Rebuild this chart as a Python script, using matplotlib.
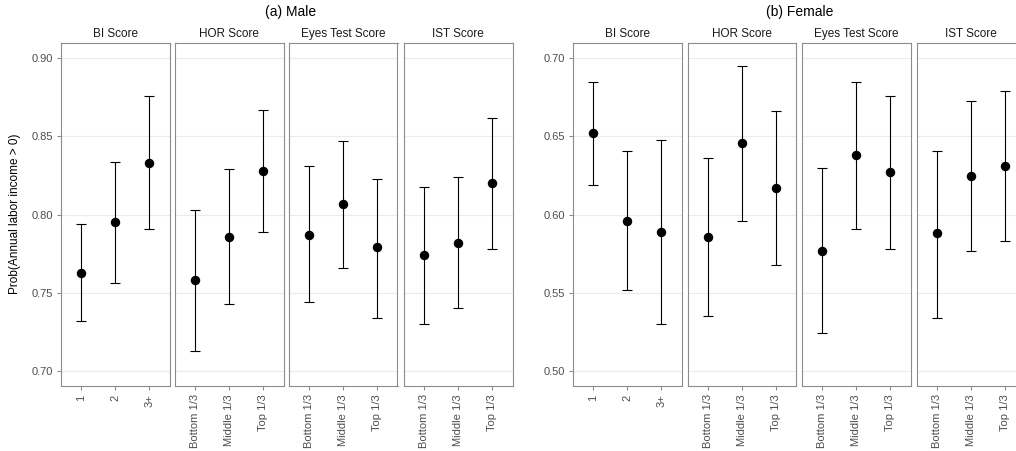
import matplotlib
matplotlib.use("Agg")
import matplotlib.pyplot as plt

plt.rcParams['font.family'] = ['Liberation Sans', 'DejaVu Sans']

facets = ["BI Score", "HOR Score", "Eyes Test Score", "IST Score"]
bi_levels = ["1", "2", "3+"]
tri_levels = ["Bottom 1/3", "Middle 1/3", "Top 1/3"]

# Male: estimate, lower, upper per facet
male_est = [[0.763, 0.795, 0.833], [0.758, 0.786, 0.828],
            [0.787, 0.807, 0.779], [0.774, 0.782, 0.820]]
male_lo = [[0.732, 0.756, 0.791], [0.713, 0.743, 0.789],
           [0.744, 0.766, 0.734], [0.730, 0.740, 0.778]]
male_hi = [[0.794, 0.834, 0.876], [0.803, 0.829, 0.867],
           [0.831, 0.847, 0.823], [0.818, 0.824, 0.862]]

female_est = [[0.652, 0.596, 0.589], [0.586, 0.646, 0.617],
              [0.577, 0.638, 0.627], [0.588, 0.625, 0.631]]
female_lo = [[0.619, 0.552, 0.530], [0.535, 0.596, 0.568],
             [0.524, 0.591, 0.578], [0.534, 0.577, 0.583]]
female_hi = [[0.685, 0.641, 0.648], [0.636, 0.695, 0.666],
             [0.630, 0.685, 0.676], [0.641, 0.673, 0.679]]

male_ticks = [0.70, 0.75, 0.80, 0.85, 0.90]
female_ticks = [0.50, 0.55, 0.60, 0.65, 0.70]

W, H = 1016, 451
fig = plt.figure(figsize=(W / 100, H / 100), dpi=100)

BORDER = "#8c8c8c"
GRID = "#ebebeb"
TICKC = "#4d4d4d"


def px_axes(x0, x1, y0, y1):
    return fig.add_axes([x0 / W, 1 - y1 / H, (x1 - x0) / W, (y1 - y0) / H])


def draw_group(lefts, width, top, bottom, est, lo, hi, ylim, yticks, title, title_x):
    for i, fac in enumerate(facets):
        ax = px_axes(lefts[i], lefts[i] + width, top, bottom)
        levels = bi_levels if i == 0 else tri_levels
        xs = list(range(len(levels)))
        e = est[i]
        yerr = [[e[k] - lo[i][k] for k in xs], [hi[i][k] - e[k] for k in xs]]
        ax.errorbar(xs, e, yerr=yerr, fmt='none', ecolor='black',
                    elinewidth=0.8, capsize=3.6, capthick=0.8, zorder=3)
        ax.plot(xs, e, 'o', color='black', markersize=5.8, zorder=4)
        ax.set_xlim(-0.6, len(levels) - 0.4)
        ax.set_ylim(*ylim)
        ax.set_yticks(yticks)
        ax.yaxis.grid(True, color=GRID, linewidth=0.8)
        ax.set_axisbelow(True)
        ax.set_xticks(xs)
        ax.set_xticklabels(levels, rotation=90, fontsize=8, color=TICKC)
        for s in ax.spines.values():
            s.set_color(BORDER)
            s.set_linewidth(0.8)
        ax.tick_params(axis='both', color=BORDER, length=3, width=0.8, pad=3)
        if i == 0:
            ax.set_yticklabels([f"{t:.2f}" for t in yticks], fontsize=8, color=TICKC)
        else:
            ax.tick_params(axis='y', left=False, labelleft=False)
        ax.set_title(fac, fontsize=8.5, color='#1a1a1a', pad=4)
    fig.text(title_x / W, 1 - 12 / H, title, ha='center', va='center', fontsize=10)


draw_group([61, 175, 289, 404], 108.5, 43, 386, male_est, male_lo, male_hi,
           (0.6904, 0.9098), male_ticks, "(a) Male", 291)
draw_group([573, 687.5, 802, 916.5], 108.5, 43, 386, female_est, female_lo, female_hi,
           (0.4904, 0.7098), female_ticks, "(b) Female", 800)

fig.text(15 / W, 1 - 214 / H, "Prob(Annual labor income > 0)", rotation=90,
         ha='center', va='center', fontsize=8.5)

fig.savefig("out.png", dpi=100)
